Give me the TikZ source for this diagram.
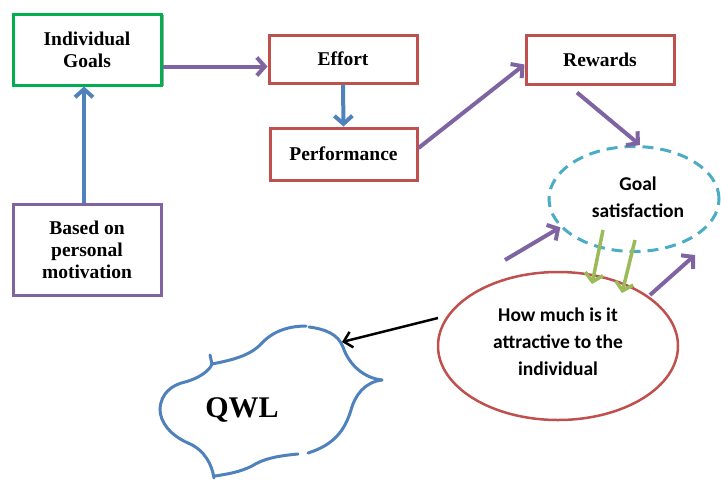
\documentclass[tikz,border=0pt]{standalone}
\usepackage{fontspec}
\setmainfont{Liberation Serif}
\newfontfamily\calib{Carlito}
\usetikzlibrary{arrows.meta,shapes.geometric,shadows}
\definecolor{cgreen}{HTML}{00B050}
\definecolor{cred}{HTML}{C0504D}
\definecolor{cpurple}{HTML}{8064A2}
\definecolor{cblue}{HTML}{4F81BD}
\definecolor{ccyan}{HTML}{4BACC6}
\definecolor{clime}{HTML}{9BBB59}
\tikzset{
  box/.style={draw, rectangle, line width=3pt, fill=white, align=center,
    font=\fontsize{19.5}{22}\selectfont\bfseries, inner sep=0pt},
  arr/.style={line width=4pt, -{Straight Barb[length=8pt,width=18pt]}},
  sanstext/.style={align=center, font=\calib\fontsize{19.5}{27}\selectfont\bfseries}
}
\begin{document}
\begin{tikzpicture}[x=1pt,y=-1pt]
\useasboundingbox (0,0) rectangle (721,480);
% boxes
\node[box, draw=cgreen, minimum width=148pt, minimum height=71pt,
  drop shadow={shadow xshift=3pt, shadow yshift=-1pt, fill=gray!70, opacity=1}]
  (goals) at (87,49.5) {Individual\\Goals};
\node[box, draw=cred, minimum width=148pt, minimum height=48pt] (effort) at (343,59) {Effort};
\node[box, draw=cred, minimum width=147pt, minimum height=52pt] (perf) at (343.5,154) {Performance};
\node[box, draw=cred, minimum width=148pt, minimum height=49pt] (rewards) at (600,59.5) {Rewards};
\node[box, draw=cpurple, minimum width=148pt, minimum height=91pt] (based) at (87,250) {Based on\\personal\\motivation};
% ellipses
\node[ellipse, draw=ccyan, line width=3pt, dash pattern=on 11pt off 7pt,
  minimum width=170pt, minimum height=105pt, inner sep=0pt] (gs) at (634,199) {};
\node[sanstext] (gstext) at (638,197) {Goal\\satisfaction};
\node[ellipse, draw=cred, line width=2.5pt, minimum width=240pt, minimum height=148pt, inner sep=0pt] (att) at (558,346) {};
\node[sanstext] (atttext) at (558,342) {How much is it\\attractive to the\\individual};
% cloud
\node[font=\fontsize{30}{30}\selectfont\bfseries] (qwl) at (242,410) {QWL};
\begin{scope}[draw=cblue, line width=3pt, line cap=round]
\draw (210,355) -- (212,364) .. controls (232,360) and (250,356) .. (262,343)
   .. controls (275,329) and (293,326) .. (306,326);
\draw (309,327) .. controls (325,329) and (338,334) .. (343,347)
   .. controls (349,365) and (364,378) .. (382,380);
\draw (382,380) .. controls (365,382) and (355,395) .. (351,410)
   .. controls (345,430) and (334,445) .. (308,453);
\draw (298,454) .. controls (276,456) and (263,459) .. (252,466)
   .. controls (240,472) and (228,474) .. (215,476);
\draw (214,478) .. controls (212,465) and (205,450) .. (188,443)
   .. controls (170,435) and (160,422) .. (160,409)
   .. controls (161,393) and (172,385) .. (185,382)
   .. controls (200,378) and (210,370) .. (212,364);
\end{scope}
% free coordinates
\coordinate (pl) at (505,260);
\coordinate (g1s) at (603,230);
\coordinate (g1e) at (592,284);
\coordinate (g2s) at (635,240);
\coordinate (g2e) at (622,293);
\coordinate (prs) at (650,295);
\coordinate (pre) at (695,255);
\coordinate (bks) at (438,318);
\coordinate (bke) at (342,342);
% arrows
\draw[arr, cpurple] ([yshift=-17pt]goals.east) -- ([yshift=-17pt]goals.east -| effort.west);
\draw[arr, cblue] ([xshift=-3pt]based.north) -- ([xshift=-3pt]goals.south);
\draw[arr, cblue] (effort.south) -- (perf.north);
\draw[arr, cpurple] ([yshift=6pt]perf.east) -- ([yshift=-5pt]rewards.west);
\draw[arr, cpurple] ([xshift=-23pt,yshift=-7pt]rewards.south) -- ([xshift=6pt]gs.north);
\draw[arr, cpurple] (pl) -- (gs.201);
\draw[arr, clime, line width=3.5pt] (g1s) -- (g1e);
\draw[arr, clime, line width=3.5pt] (g2s) -- (g2e);
\draw[arr, cpurple] (prs) -- (pre);
\draw[line width=2.5pt, -{Straight Barb[length=8pt,width=16pt]}] (bks) -- (bke);
\end{tikzpicture}
\end{document}
